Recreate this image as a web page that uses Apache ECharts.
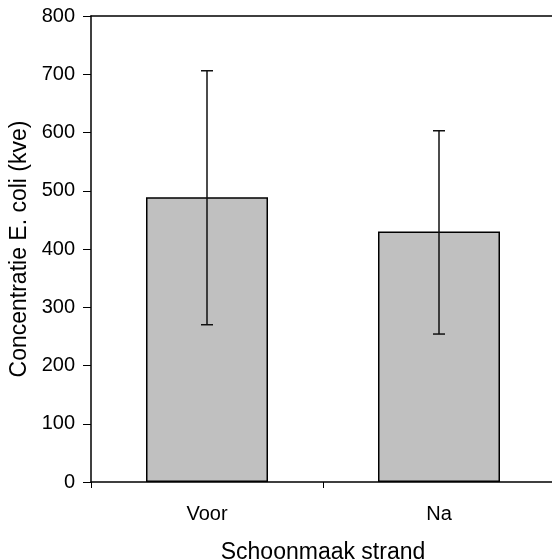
<!DOCTYPE html>
<html>
<head>
<meta charset="utf-8">
<script src="https://cdn.jsdelivr.net/npm/echarts@6/dist/echarts.min.js"></script>
<style>
  html, body { margin: 0; padding: 0; background: #fff; }
  #chart { width: 552px; height: 559px; }
</style>
</head>
<body>
<div id="chart"></div>
<script>
const categories = ['Voor', 'Na']
const means = [489, 430]
const errUpper = [706, 603]
const errLower = [270, 254]
const yTicks = [0, 100, 200, 300, 400, 500, 600, 700, 800]

const font = '"Liberation Sans", Arial, sans-serif'
const chart = echarts.init(document.getElementById('chart'))

// whiskers drawn through the axis scales
const renderErr = (params, api) => {
  const x = api.value(0)
  const hi = api.coord([x, api.value(1)])
  const lo = api.coord([x, api.value(2)])
  const cap = 6
  const style = { stroke: '#111', lineWidth: 1.5 }
  return {
    type: 'group',
    children: [
      { type: 'line', shape: { x1: hi[0], y1: hi[1], x2: lo[0], y2: lo[1] }, style },
      { type: 'line', shape: { x1: hi[0] - cap, y1: hi[1], x2: hi[0] + cap, y2: hi[1] }, style },
      { type: 'line', shape: { x1: lo[0] - cap, y1: lo[1], x2: lo[0] + cap, y2: lo[1] }, style }
    ]
  }
}

const option = {
  animation: false,
  grid: { left: 91, top: 16, width: 464, bottom: 77, outerBoundsMode: 'none', containLabel: false },
  xAxis: [
    {
      type: 'category',
      data: categories,
      name: 'Schoonmaak strand',
      nameLocation: 'middle',
      nameGap: 59,
      nameTextStyle: { fontFamily: font, fontSize: 23, color: '#000' },
      axisLine: { lineStyle: { color: '#000', width: 1.5 } },
      axisTick: { show: true, length: 6, lineStyle: { color: '#000' } },
      axisLabel: { fontFamily: font, fontSize: 20, color: '#000', margin: 22 }
    },
    {
      type: 'category',
      data: categories,
      position: 'top',
      axisLine: { lineStyle: { color: '#000', width: 1.5 } },
      axisTick: { show: false },
      axisLabel: { show: false }
    }
  ],
  yAxis: {
    type: 'value',
    min: yTicks[0],
    max: yTicks[yTicks.length - 1],
    interval: 100,
    name: 'Concentratie E. coli (kve)',
    nameLocation: 'middle',
    nameGap: 55,
    nameTextStyle: { fontFamily: font, fontSize: 23, color: '#000' },
    splitLine: { show: false },
    axisLine: { show: true, lineStyle: { color: '#000', width: 1.5 } },
    axisTick: { show: true, length: 8, lineStyle: { color: '#000' } },
    axisLabel: { fontFamily: font, fontSize: 20, color: '#000', margin: 16 }
  },
  series: [
    {
      type: 'bar',
      data: means,
      barWidth: 122,
      itemStyle: { color: '#c0c0c0', borderColor: '#000', borderWidth: 1.5 }
    },
    {
      type: 'custom',
      renderItem: renderErr,
      data: categories.map((c, i) => [i, errUpper[i], errLower[i]]),
      z: 10
    }
  ]
}

chart.setOption(option)
</script>
</body>
</html>
